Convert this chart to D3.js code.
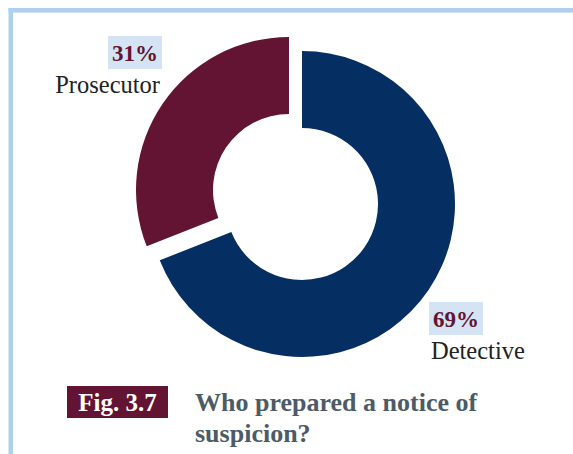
<!DOCTYPE html>
<html>
<head>
<meta charset="utf-8">
<script src="https://cdn.jsdelivr.net/npm/d3@7"></script>
<style>
  html, body { margin: 0; padding: 0; background: #ffffff; }
  svg { display: block; }
  text { font-family: "Liberation Serif", "Times New Roman", serif; }
</style>
</head>
<body>
<svg id="chart" width="573" height="454"></svg>
<script>
// Who prepared a notice of suspicion? (shares, %)
const categories = ["Detective", "Prosecutor"];
const values = [69, 31];
const colors = ["#052e62", "#621432"];
const figLabel = "Fig. 3.7";
const titleLines = ["Who prepared a notice of", "suspicion?"];

const svg = d3.select("#chart");
const W = 573, H = 454;

// light blue page frame (top and left rules)
svg.append("rect").attr("x", 8.5).attr("y", 8).attr("width", W).attr("height", 4.6).attr("fill", "#aed0ee");
svg.append("rect").attr("x", 8.5).attr("y", 8).attr("width", 4.6).attr("height", H).attr("fill", "#aed0ee");

// donut
const cx = 302, cy = 204;
const outerR = 153, innerR = 76;
// the prosecutor slice is pulled out from the ring
const explode = { Detective: [0, 0], Prosecutor: [-13, -14] };

const pie = d3.pie().sort(null).startAngle(0).endAngle(2 * Math.PI);
const arcs = pie(values).map((a, i) => Object.assign(a, { name: categories[i], color: colors[i] }));
const arcGen = d3.arc().innerRadius(innerR).outerRadius(outerR);

const g = svg.append("g").attr("transform", `translate(${cx},${cy})`);
g.selectAll("path.slice")
  .data(arcs)
  .join("path")
  .attr("class", "slice")
  .attr("d", arcGen)
  .attr("fill", d => d.color)
  .attr("transform", d => `translate(${explode[d.name][0]},${explode[d.name][1]})`);

// labels: percentage in a tinted box, category name under it
const labelPos = {
  Prosecutor: { x: -144, pctY: -143, nameY: -111, anchor: "end" },
  Detective: { x: 131, pctY: 123, nameY: 155, anchor: "start" }
};

arcs.forEach(d => {
  const p = labelPos[d.name];
  const lg = g.append("g");
  const pct = lg.append("text")
    .attr("x", p.x)
    .attr("y", p.pctY)
    .attr("text-anchor", p.anchor)
    .attr("font-weight", "bold")
    .attr("font-size", 23)
    .attr("fill", "#621432")
    .text(Math.round(d.data) + "%");
  const bb = pct.node().getBBox();
  lg.insert("rect", "text")
    .attr("x", bb.x - 4)
    .attr("y", p.pctY - 25)
    .attr("width", bb.width + 8)
    .attr("height", 33)
    .attr("fill", "#d4e4f4");
  lg.append("text")
    .attr("x", p.x + (p.anchor === "end" ? 2 : -2))
    .attr("y", p.nameY)
    .attr("text-anchor", p.anchor)
    .attr("font-size", 24.5)
    .attr("fill", "#222222")
    .text(d.name);
});

// caption
const cap = svg.append("g");
cap.append("rect")
  .attr("x", 67).attr("y", 386).attr("width", 101).attr("height", 32)
  .attr("fill", "#621432");
cap.append("text")
  .attr("x", 117.5).attr("y", 411)
  .attr("text-anchor", "middle")
  .attr("font-weight", "bold")
  .attr("font-size", 25)
  .attr("fill", "#ffffff")
  .text(figLabel);
cap.selectAll("text.title")
  .data(titleLines)
  .join("text")
  .attr("class", "title")
  .attr("x", 195)
  .attr("y", (d, i) => 411 + i * 31)
  .attr("font-weight", "bold")
  .attr("font-size", 26)
  .attr("fill", "#4d5b66")
  .text(d => d);
</script>
</body>
</html>
